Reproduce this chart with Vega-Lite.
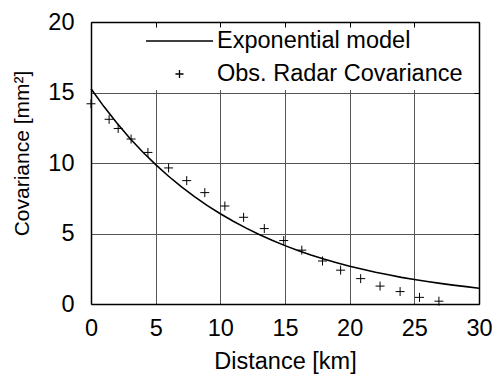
{
  "$schema": "https://vega.github.io/schema/vega-lite/v6.json",
  "width": 388,
  "height": 282,
  "autosize": {"type": "none"},
  "padding": {"left": 91, "top": 22, "right": 13, "bottom": 72},
  "config": {
    "view": {"stroke": null},
    "font": "Liberation Sans",
    "axis": {"labelFont": "Liberation Sans", "titleFont": "Liberation Sans", "labelColor": "black", "titleColor": "black", "titleFontWeight": "normal"}
  },
  "datasets": {
    "model": [
      {"distance": 0, "covariance": 15.27, "series": "Exponential model"},
      {"distance": 1, "covariance": 14.0, "series": "Exponential model"},
      {"distance": 2, "covariance": 12.83, "series": "Exponential model"},
      {"distance": 3, "covariance": 11.76, "series": "Exponential model"},
      {"distance": 4, "covariance": 10.78, "series": "Exponential model"},
      {"distance": 5, "covariance": 9.89, "series": "Exponential model"},
      {"distance": 6, "covariance": 9.06, "series": "Exponential model"},
      {"distance": 7, "covariance": 8.31, "series": "Exponential model"},
      {"distance": 8, "covariance": 7.62, "series": "Exponential model"},
      {"distance": 9, "covariance": 6.98, "series": "Exponential model"},
      {"distance": 10, "covariance": 6.4, "series": "Exponential model"},
      {"distance": 11, "covariance": 5.87, "series": "Exponential model"},
      {"distance": 12, "covariance": 5.38, "series": "Exponential model"},
      {"distance": 13, "covariance": 4.93, "series": "Exponential model"},
      {"distance": 14, "covariance": 4.52, "series": "Exponential model"},
      {"distance": 15, "covariance": 4.14, "series": "Exponential model"},
      {"distance": 16, "covariance": 3.8, "series": "Exponential model"},
      {"distance": 17, "covariance": 3.48, "series": "Exponential model"},
      {"distance": 18, "covariance": 3.19, "series": "Exponential model"},
      {"distance": 19, "covariance": 2.93, "series": "Exponential model"},
      {"distance": 20, "covariance": 2.68, "series": "Exponential model"},
      {"distance": 21, "covariance": 2.46, "series": "Exponential model"},
      {"distance": 22, "covariance": 2.25, "series": "Exponential model"},
      {"distance": 23, "covariance": 2.07, "series": "Exponential model"},
      {"distance": 24, "covariance": 1.89, "series": "Exponential model"},
      {"distance": 25, "covariance": 1.74, "series": "Exponential model"},
      {"distance": 26, "covariance": 1.59, "series": "Exponential model"},
      {"distance": 27, "covariance": 1.46, "series": "Exponential model"},
      {"distance": 28, "covariance": 1.34, "series": "Exponential model"},
      {"distance": 29, "covariance": 1.23, "series": "Exponential model"},
      {"distance": 30, "covariance": 1.12, "series": "Exponential model"}
    ],
    "obs": [
      {"distance": 0, "covariance": 14.2, "series": "Obs. Radar Covariance"},
      {"distance": 1.4, "covariance": 13.1, "series": "Obs. Radar Covariance"},
      {"distance": 2.1, "covariance": 12.45, "series": "Obs. Radar Covariance"},
      {"distance": 3.1, "covariance": 11.7, "series": "Obs. Radar Covariance"},
      {"distance": 4.4, "covariance": 10.75, "series": "Obs. Radar Covariance"},
      {"distance": 6.0, "covariance": 9.65, "series": "Obs. Radar Covariance"},
      {"distance": 7.4, "covariance": 8.75, "series": "Obs. Radar Covariance"},
      {"distance": 8.8, "covariance": 7.9, "series": "Obs. Radar Covariance"},
      {"distance": 10.35, "covariance": 6.95, "series": "Obs. Radar Covariance"},
      {"distance": 11.8, "covariance": 6.15, "series": "Obs. Radar Covariance"},
      {"distance": 13.4, "covariance": 5.35, "series": "Obs. Radar Covariance"},
      {"distance": 14.9, "covariance": 4.5, "series": "Obs. Radar Covariance"},
      {"distance": 16.3, "covariance": 3.82, "series": "Obs. Radar Covariance"},
      {"distance": 17.9, "covariance": 3.05, "series": "Obs. Radar Covariance"},
      {"distance": 19.3, "covariance": 2.4, "series": "Obs. Radar Covariance"},
      {"distance": 20.85, "covariance": 1.8, "series": "Obs. Radar Covariance"},
      {"distance": 22.35, "covariance": 1.27, "series": "Obs. Radar Covariance"},
      {"distance": 23.9, "covariance": 0.88, "series": "Obs. Radar Covariance"},
      {"distance": 25.4, "covariance": 0.47, "series": "Obs. Radar Covariance"},
      {"distance": 26.9, "covariance": 0.2, "series": "Obs. Radar Covariance"}
    ]
  },
  "layer": [
    {
      "data": {"name": "model"},
      "mark": {"type": "line", "color": "black", "strokeWidth": 1.6},
      "encoding": {
        "x": {
          "field": "distance", "type": "quantitative",
          "scale": {"domain": [0, 30], "nice": false},
          "axis": {
            "orient": "bottom", "values": [0, 5, 10, 15, 20, 25, 30],
            "grid": true, "gridColor": "#555555", "gridWidth": 1, "gridOpacity": 1,
            "domain": true, "domainColor": "black", "domainWidth": 1.5,
            "ticks": false, "labelFontSize": 23.5, "labelPadding": 12, "labelFlush": false,
            "title": "Distance [km]", "titleFontSize": 23.5, "titlePadding": 10, "zindex": 0
          }
        },
        "y": {
          "field": "covariance", "type": "quantitative",
          "scale": {"domain": [0, 20], "nice": false},
          "axis": {
            "orient": "left", "values": [0, 5, 10, 15, 20],
            "grid": true, "gridColor": "#555555", "gridWidth": 1, "gridOpacity": 1,
            "domain": true, "domainColor": "black", "domainWidth": 1.5,
            "ticks": false, "labelFontSize": 23.5, "labelPadding": 17, "labelFlush": false,
            "title": "Covariance [mm²]", "titleFontSize": 21, "titlePadding": 15, "titleY": 131, "zindex": 0
          }
        },
        "color": {
          "field": "series", "type": "nominal",
          "scale": {"domain": ["Exponential model", "Obs. Radar Covariance"], "range": ["black", "black"]},
          "legend": {
            "orient": "none", "legendX": 50, "legendY": 3,
            "title": null, "fillColor": "white", "padding": 4,
            "symbolType": "stroke", "symbolSize": 4489, "clipHeight": 24, "rowPadding": 9,
            "labelFontSize": 23.5, "labelFont": "Liberation Sans", "labelColor": "black", "labelOffset": 3, "labelLimit": 400,
            "encode": {
              "symbols": {
                "update": {
                  "shape": {"signal": "datum.value === 'Exponential model' ? 'stroke' : 'M-0.12,0H0.12M0,-0.12V0.12'"},
                  "size": {"value": 4489},
                  "stroke": {"value": "black"},
                  "fill": {"value": "transparent"},
                  "strokeWidth": {"value": 1.3},
                  "opacity": {"value": 1}
                }
              }
            }
          }
        }
      }
    },
    {
      "data": {"name": "obs"},
      "mark": {"type": "point", "shape": "M-1,0H1M0,-1V1", "filled": false, "size": 81, "strokeWidth": 1, "opacity": 1},
      "encoding": {
        "x": {
          "field": "distance", "type": "quantitative",
          "axis": {
            "orient": "top", "values": [0, 5, 10, 15, 20, 25, 30],
            "grid": false, "labels": false, "title": null,
            "domain": true, "domainColor": "black", "domainWidth": 1.5,
            "ticks": true, "tickSize": -5, "tickColor": "black", "tickWidth": 1, "zindex": 1
          }
        },
        "y": {
          "field": "covariance", "type": "quantitative",
          "axis": {
            "orient": "right", "values": [0, 5, 10, 15, 20],
            "grid": false, "labels": false, "title": null,
            "domain": true, "domainColor": "black", "domainWidth": 1.5,
            "ticks": true, "tickSize": -5, "tickColor": "black", "tickWidth": 1, "zindex": 1
          }
        },
        "color": {"field": "series", "type": "nominal"}
      }
    }
  ]
}
